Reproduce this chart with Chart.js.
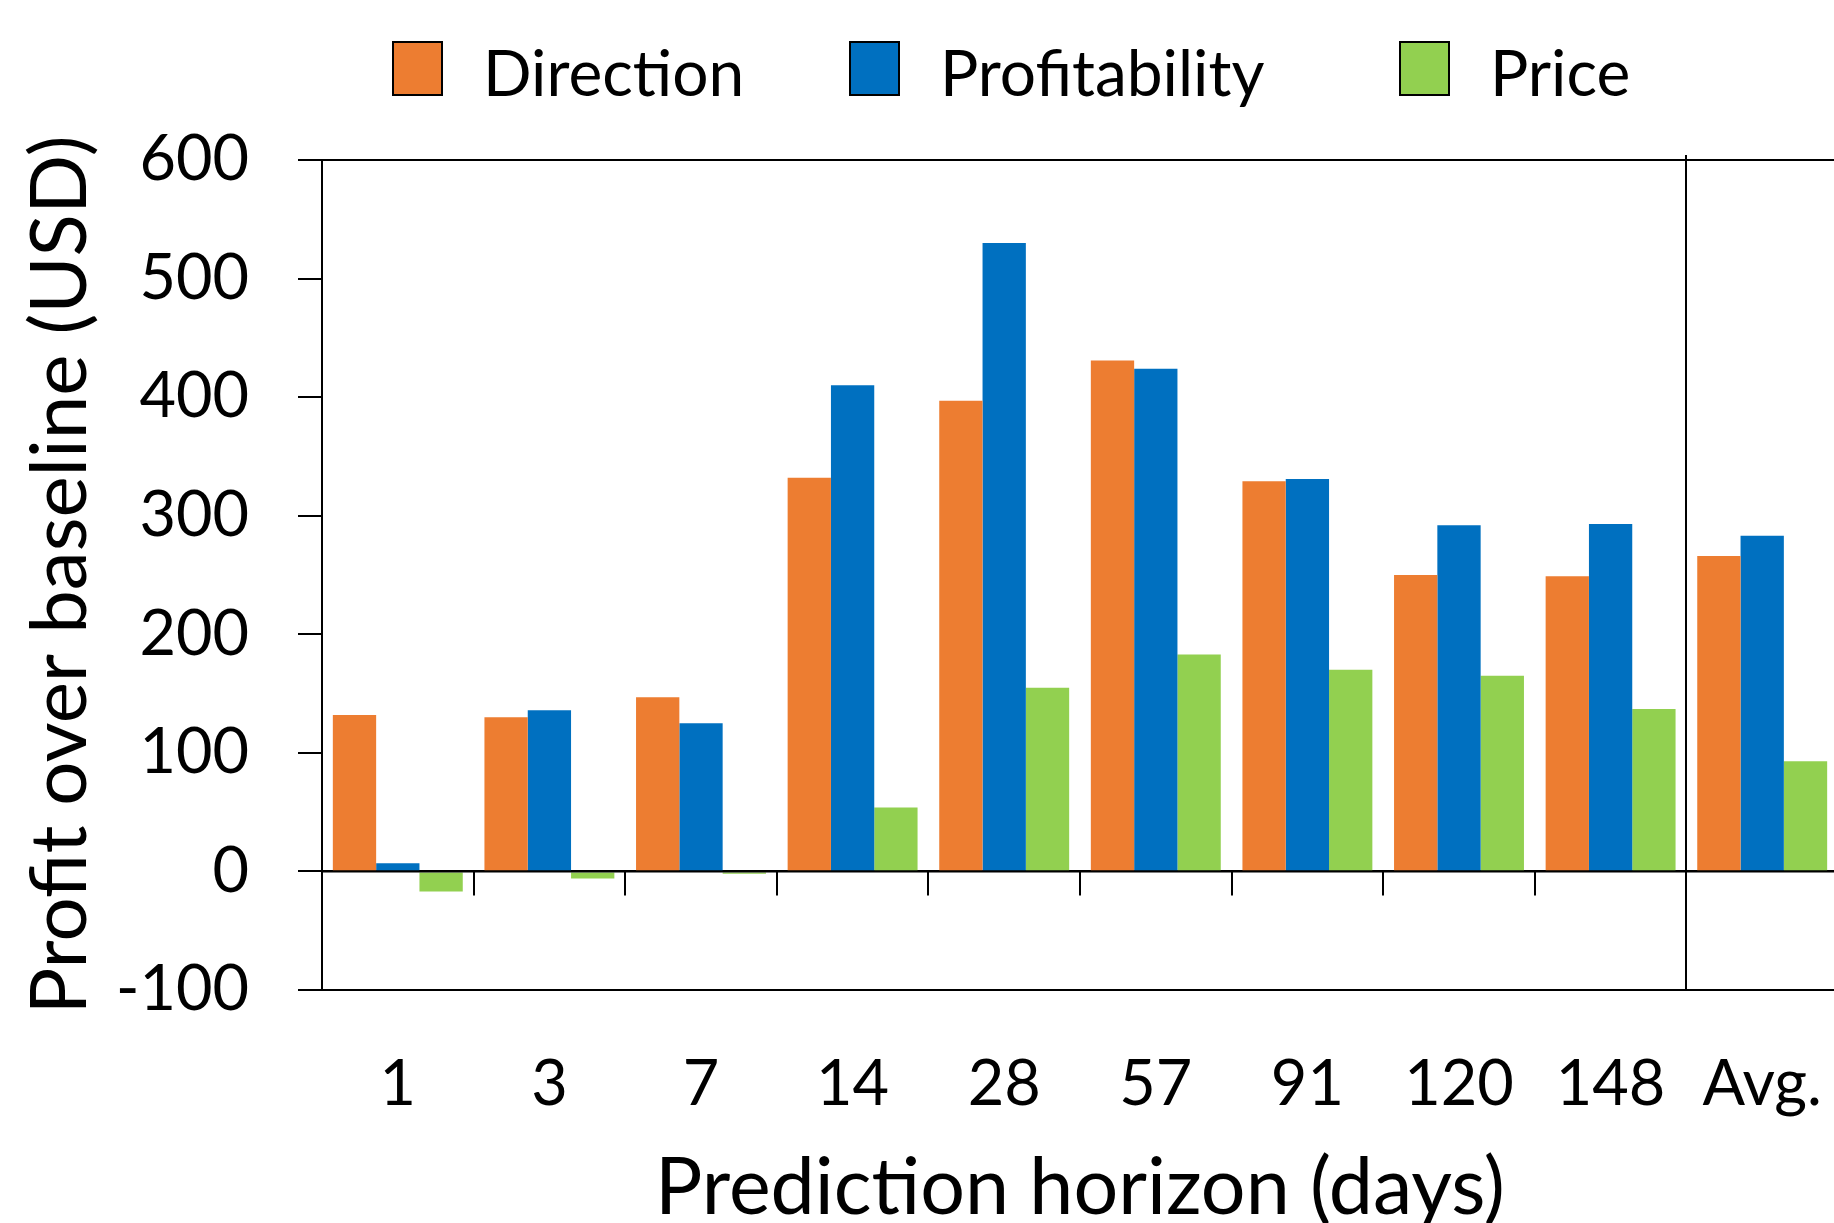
<!DOCTYPE html>
<html lang="en">
<head>
    <meta charset="UTF-8">
    <title>Profit over baseline</title>
    <style>
        body {
            margin: 0;
            background: #fff;
            overflow: hidden;
        }
        #wrap {
            width: 1838px;
            height: 1223px;
        }
    </style>
</head>
<body>
    <div id="wrap">
        <canvas id="profitChart" width="1838" height="1223"></canvas>
    </div>

    <script src="https://cdn.jsdelivr.net/npm/chart.js"></script>
    <script>
        // data
        const horizons = ['1', '3', '7', '14', '28', '57', '91', '120', '148', 'Avg.'];
        const direction = [132, 130, 147, 332, 397, 431, 329, 250, 249, 266];
        const profitability = [7, 136, 125, 410, 530, 424, 331, 292, 293, 283];
        const price = [-17, -6, -2, 54, 155, 183, 170, 165, 137, 93];
        const yTicks = [600, 500, 400, 300, 200, 100, 0, -100];

        const FONT = 'Lato, "Open Sans", sans-serif';

        // legend drawn by hand, Excel style (box with black border)
        const legendX = [393, 850, 1400];
        const legendPlugin = {
            id: 'boxLegend',
            afterDraw(chart) {
                const ctx = chart.ctx;
                ctx.save();
                ctx.font = '64px ' + FONT;
                ctx.textBaseline = 'alphabetic';
                chart.data.datasets.forEach((ds, i) => {
                    const bx = legendX[i];
                    ctx.fillStyle = ds.backgroundColor;
                    ctx.fillRect(bx, 42, 49, 53);
                    ctx.lineWidth = 2;
                    ctx.strokeStyle = '#000';
                    ctx.strokeRect(bx, 42, 49, 53);
                    ctx.fillStyle = '#000';
                    ctx.fillText(ds.label, bx + 90, 96);
                });
                ctx.restore();
            }
        };

        // short ticks hanging from the zero line + separator before "Avg."
        const zeroTicks = {
            id: 'zeroTicks',
            afterDatasetsDraw(chart) {
                const { ctx, chartArea, scales: { x, y } } = chart;
                const y0 = y.getPixelForValue(0);
                ctx.save();
                ctx.strokeStyle = '#000';
                ctx.lineWidth = 2;
                ctx.beginPath();
                ctx.moveTo(chartArea.left, y0);
                ctx.lineTo(chartArea.right, y0);
                ctx.stroke();
                for (let i = 1; i < horizons.length; i++) {
                    const bx = Math.round((x.getPixelForValue(i - 1) + x.getPixelForValue(i)) / 2);
                    ctx.beginPath();
                    ctx.moveTo(bx, y0);
                    ctx.lineTo(bx, y0 + 24);
                    ctx.stroke();
                }
                const n = horizons.length;
                const sx = Math.round((x.getPixelForValue(n - 2) + x.getPixelForValue(n - 1)) / 2);
                ctx.beginPath();
                ctx.moveTo(sx, chartArea.top - 5);
                ctx.lineTo(sx, chartArea.bottom);
                ctx.stroke();
                ctx.restore();
            }
        };

        const ctx = document.getElementById('profitChart').getContext('2d');
        // the original font has no "ti" ligature; a tiny letter spacing turns it off
        ctx.textRendering = 'optimizeSpeed';
        ctx.letterSpacing = '0.2px';

        const chart = new Chart(ctx, {
            type: 'bar',
            data: {
                labels: horizons,
                datasets: [
                    { label: 'Direction', data: direction, backgroundColor: '#ED7D31' },
                    { label: 'Profitability', data: profitability, backgroundColor: '#0070C0' },
                    { label: 'Price', data: price, backgroundColor: '#92D050' }
                ]
            },
            options: {
                responsive: false,
                animation: false,
                layout: { padding: { top: 160, right: 0, bottom: 0, left: 0 } },
                datasets: {
                    bar: { categoryPercentage: 0.857, barPercentage: 1.0, borderWidth: 0 }
                },
                plugins: {
                    legend: { display: false },
                    tooltip: { enabled: false }
                },
                scales: {
                    x: {
                        // invisible ticks only to push the labels down
                        grid: {
                            display: true,
                            drawOnChartArea: false,
                            drawTicks: true,
                            tickLength: 57,
                            tickColor: 'rgba(0,0,0,0)',
                            color: 'rgba(0,0,0,0)'
                        },
                        border: { display: false },
                        ticks: {
                            color: '#000',
                            padding: 0,
                            font: { family: FONT, size: 63 }
                        },
                        title: {
                            display: true,
                            text: 'Prediction horizon (days)',
                            color: '#000',
                            padding: { top: 0, bottom: 3 },
                            font: { family: FONT, size: 79, lineHeight: 0.8 }
                        },
                        afterFit(scale) { scale.height = 233; }
                    },
                    y: {
                        min: -100,
                        max: 600,
                        afterBuildTicks(scale) {
                            scale.ticks = yTicks.map(v => ({ value: v }));
                        },
                        grid: {
                            color: c => [600, 0, -100].includes(c.tick.value) ? '#000' : 'rgba(0,0,0,0)',
                            lineWidth: 2,
                            tickColor: '#000',
                            tickWidth: 2,
                            tickLength: 24
                        },
                        border: { display: true, color: '#000', width: 2 },
                        ticks: {
                            color: '#000',
                            padding: 49,
                            font: { family: FONT, size: 63 }
                        },
                        title: {
                            display: true,
                            text: 'Profit over baseline (USD)',
                            color: '#000',
                            padding: { top: 30, bottom: 0 },
                            font: { family: FONT, size: 78, lineHeight: 0.8 }
                        },
                        afterFit(scale) { scale.width = 322; }
                    }
                }
            },
            plugins: [legendPlugin, zeroTicks]
        });
    </script>
</body>
</html>
